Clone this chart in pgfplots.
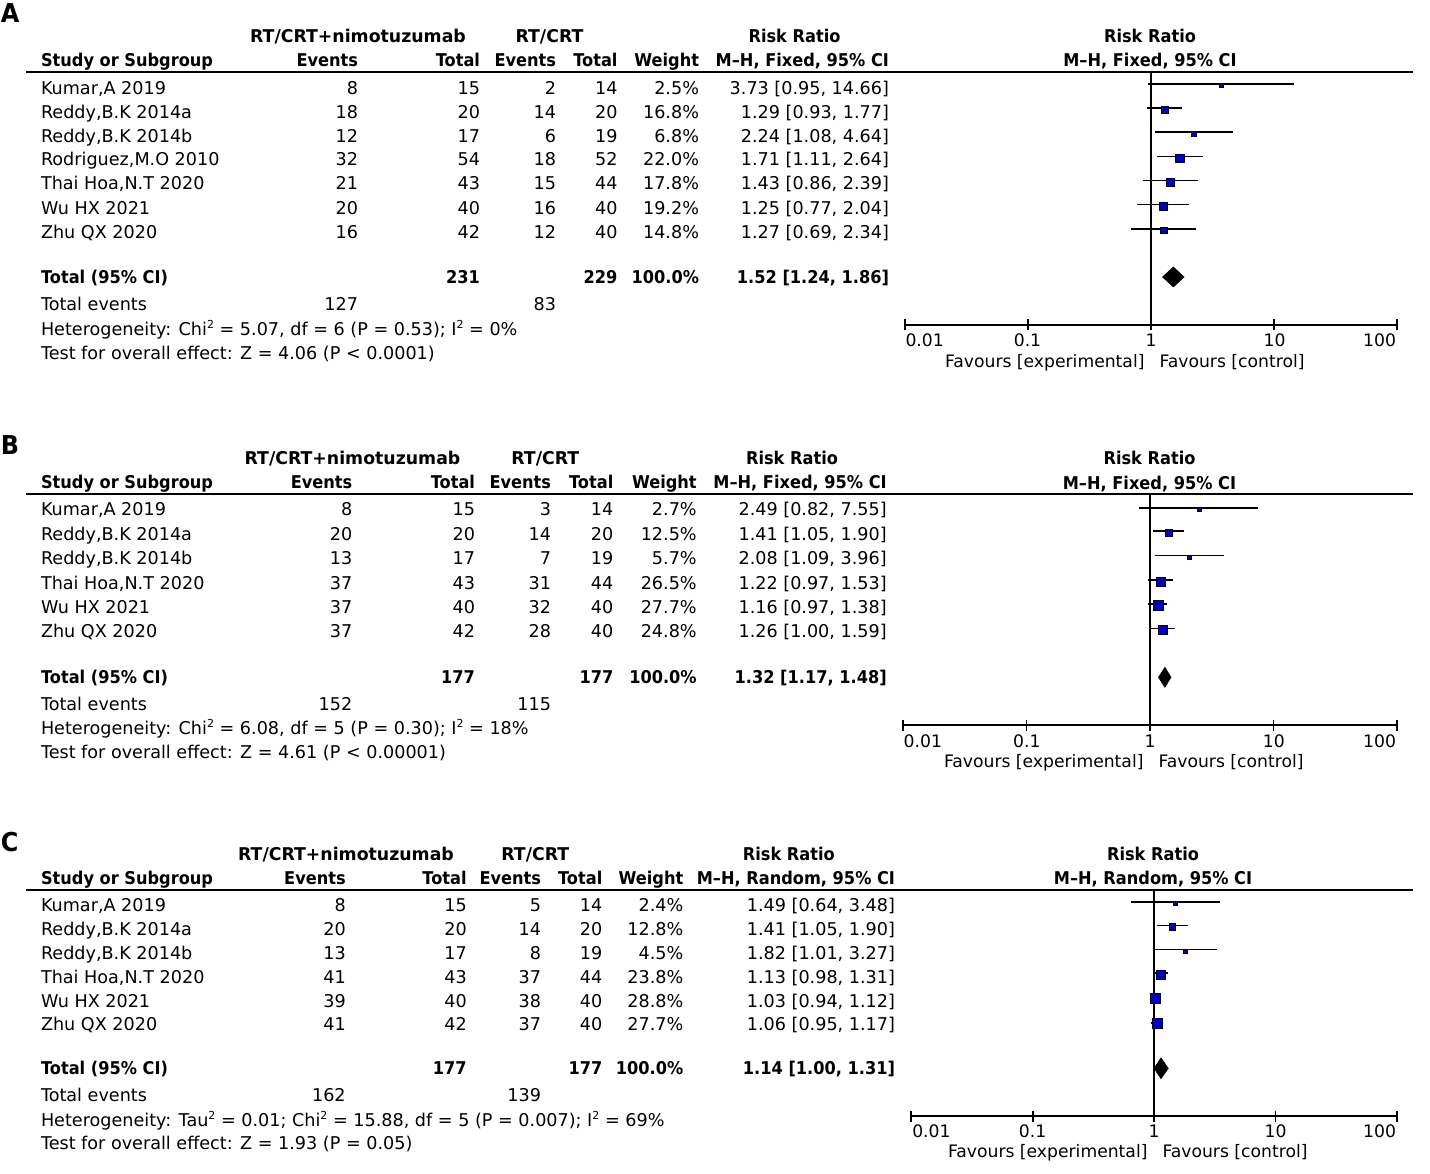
\documentclass[border=0pt]{standalone}
\usepackage{fontspec}
\setmainfont{DejaVu Sans}[BoldFeatures={FakeStretch=0.92}]
\usepackage{graphicx}
\usepackage{pgfplots}
\pgfplotsset{compat=1.18}
\definecolor{sqblue}{RGB}{0,0,200}

\newcommand\fs{\fontsize{17.6}{21}\selectfont}
\newcommand\fl{\fontsize{17.2}{20}\selectfont}
\newcommand\fp{\fontsize{26}{30}\selectfont\bfseries}
\newcommand\wb[1]{\scalebox{1.07}[1]{\bfseries #1}}
\newcommand\sq{\raisebox{0.42em}{\fontsize{11}{11}\selectfont 2}}

\newcommand\setcols[6]{\def\cE{#1}\def\cT{#2}\def\cEE{#3}\def\cTT{#4}\def\cW{#5}\def\cR{#6}}
\newcommand\trow[8]{%
  \node[anchor=base west] at (41,#1) {#2};
  \node[anchor=base east] at (\cE,#1) {#3};
  \node[anchor=base east] at (\cT,#1) {#4};
  \node[anchor=base east] at (\cEE,#1) {#5};
  \node[anchor=base east] at (\cTT,#1) {#6};
  \node[anchor=base east] at (\cW,#1) {#7};
  \node[anchor=base east] at (\cR,#1) {#8};}
% header: y1, y2, centre nimo, centre RT/CRT, centre RR, subtitle
\newcommand\theader[6]{%
  \node[anchor=base] at (#3,#1) {\wb{RT/CRT+nimotuzumab}};
  \node[anchor=base] at (#4,#1) {\wb{RT/CRT}};
  \node[anchor=base] at (#5,#1) {\bfseries Risk Ratio};
  \node[anchor=base west] at (41,#2) {\bfseries Study or Subgroup};
  \node[anchor=base east] at (\cE,#2) {\bfseries Events};
  \node[anchor=base east] at (\cT,#2) {\bfseries Total};
  \node[anchor=base east] at (\cEE,#2) {\bfseries Events};
  \node[anchor=base east] at (\cTT,#2) {\bfseries Total};
  \node[anchor=base east] at (\cW,#2) {\bfseries Weight};
  \node[anchor=base east] at (\cR,#2) {\bfseries #6};}
% total row: y, tot1, tot2, rr
\newcommand\ttotal[4]{%
  \node[anchor=base west] at (41,#1) {\bfseries Total (95\% CI)};
  \node[anchor=base east] at (\cT,#1) {\bfseries #2};
  \node[anchor=base east] at (\cTT,#1) {\bfseries #3};
  \node[anchor=base east] at (\cW,#1) {\bfseries 100.0\%};
  \node[anchor=base east] at (\cR,#1) {\bfseries #4};}
\newcommand\tevents[3]{%
  \node[anchor=base west] at (41,#1) {Total events};
  \node[anchor=base east] at (\cE,#1) {#2};
  \node[anchor=base east] at (\cEE,#1) {#3};}
% forest labels: tick baseline, favours baseline, x(0.01), x(0.1), x(1), x(10), x(100)
\newcommand\flabels[7]{%
  \node[anchor=base west,font=\fl] at (#3,#1) {0.01};
  \node[anchor=base,font=\fl] at (#4,#1) {0.1};
  \node[anchor=base,font=\fl] at (#5,#1) {1};
  \node[anchor=base,font=\fl] at (#6,#1) {10};
  \node[anchor=base east,font=\fl] at (#7,#1) {100};
  \node[anchor=base east,font=\fl] at (#5-6.5,#2) {Favours [experimental]};
  \node[anchor=base west,font=\fl] at (#5+8.5,#2) {Favours [control]};}

\pgfplotsset{
  myforest/.style={scale only axis, xmin=0.01, xmax=100,
    axis x line*=bottom, axis y line=none,
    xtick={0.01,0.1,1,10,100}, xticklabels={}, xminorticks=false,
    tick align=center, major tick length=11pt,
    axis line style={line width=1.8pt, black},
    every tick/.style={line width=1.8pt, black},
    clip=false, anchor=south west},
  vline/.style={black, line width=1.8pt, forget plot},
  ci/.style={black, line width=1.6pt, forget plot},
  sq/.style={only marks, mark=square*, mark options={fill=sqblue, draw=none}, forget plot},
  dia/.style={fill=black, draw=black, line width=0.5pt, forget plot}
}

\begin{document}
\begin{tikzpicture}
\begin{scope}[x=1pt,y=-1pt,every node/.style={inner sep=0pt,outer sep=0pt},font=\fs]
\path[use as bounding box] (0,0) rectangle (1430,1174);

% ---------------- Panel A ----------------
\node[anchor=base west,font=\fp] at (1,22.5) {A};
\setcols{358}{480}{556}{617.5}{699}{889}
\theader{42.4}{66.4}{358}{549.5}{794.5}{M--H, Fixed, 95\% CI}
\draw[line width=1.5pt] (26,72) -- (1413,72);
\trow{94.1}{Kumar,A 2019}{8}{15}{2}{14}{2.5\%}{3.73 [0.95, 14.66]}
\trow{118.1}{Reddy,B.K 2014a}{18}{20}{14}{20}{16.8\%}{1.29 [0.93, 1.77]}
\trow{142.1}{Reddy,B.K 2014b}{12}{17}{6}{19}{6.8\%}{2.24 [1.08, 4.64]}
\trow{165.7}{Rodriguez,M.O 2010}{32}{54}{18}{52}{22.0\%}{1.71 [1.11, 2.64]}
\trow{189.7}{Thai Hoa,N.T 2020}{21}{43}{15}{44}{17.8\%}{1.43 [0.86, 2.39]}
\trow{214.1}{Wu HX 2021}{20}{40}{16}{40}{19.2\%}{1.25 [0.77, 2.04]}
\trow{238.1}{Zhu QX 2020}{16}{42}{12}{40}{14.8\%}{1.27 [0.69, 2.34]}
\ttotal{283.1}{231}{229}{1.52 [1.24, 1.86]}
\tevents{310.7}{127}{83}
\node[anchor=base west] at (41,335.7) {Heterogeneity: Chi\sq{} = 5.07, df = 6 (P = 0.53); I\sq{} = 0\%};
\node[anchor=base west] at (41,359.1) {Test for overall effect: Z = 4.06 (P < 0.0001)};
\node[anchor=base] at (1150,42.4) {\bfseries Risk Ratio};
\node[anchor=base] at (1150,66.4) {\bfseries M--H, Fixed, 95\% CI};
\flabels{347}{367.7}{905.5}{1027.5}{1151}{1274.5}{1396}

% ---------------- Panel B ----------------
\node[anchor=base west,font=\fp] at (1,454) {B};
\setcols{352.3}{475}{551}{613.3}{696.7}{886.7}
\theader{464.1}{488.7}{352.5}{545.3}{792}{M--H, Fixed, 95\% CI}
\draw[line width=1.5pt] (26,494) -- (1413,494);
\trow{515.7}{Kumar,A 2019}{8}{15}{3}{14}{2.7\%}{2.49 [0.82, 7.55]}
\trow{540.4}{Reddy,B.K 2014a}{20}{20}{14}{20}{12.5\%}{1.41 [1.05, 1.90]}
\trow{564.7}{Reddy,B.K 2014b}{13}{17}{7}{19}{5.7\%}{2.08 [1.09, 3.96]}
\trow{589.1}{Thai Hoa,N.T 2020}{37}{43}{31}{44}{26.5\%}{1.22 [0.97, 1.53]}
\trow{613.1}{Wu HX 2021}{37}{40}{32}{40}{27.7\%}{1.16 [0.97, 1.38]}
\trow{637.4}{Zhu QX 2020}{37}{42}{28}{40}{24.8\%}{1.26 [1.00, 1.59]}
\ttotal{683.1}{177}{177}{1.32 [1.17, 1.48]}
\tevents{710.4}{152}{115}
\node[anchor=base west] at (41,734.7) {Heterogeneity: Chi\sq{} = 6.08, df = 5 (P = 0.30); I\sq{} = 18\%};
\node[anchor=base west] at (41,758.1) {Test for overall effect: Z = 4.61 (P < 0.00001)};
\node[anchor=base] at (1149.5,464.7) {\bfseries Risk Ratio};
\node[anchor=base] at (1149.5,489.1) {\bfseries M--H, Fixed, 95\% CI};
\flabels{747.7}{767.7}{903.7}{1026.8}{1150}{1273.8}{1396}

% ---------------- Panel C ----------------
\node[anchor=base west,font=\fp] at (1,851.5) {C};
\setcols{345.7}{466.7}{541}{602.3}{683.3}{895}
\theader{860.7}{884.7}{346}{535.3}{788.8}{M--H, Random, 95\% CI}
\draw[line width=1.5pt] (26,890) -- (1413,890);
\trow{911.4}{Kumar,A 2019}{8}{15}{5}{14}{2.4\%}{1.49 [0.64, 3.48]}
\trow{935.4}{Reddy,B.K 2014a}{20}{20}{14}{20}{12.8\%}{1.41 [1.05, 1.90]}
\trow{959.1}{Reddy,B.K 2014b}{13}{17}{8}{19}{4.5\%}{1.82 [1.01, 3.27]}
\trow{983.1}{Thai Hoa,N.T 2020}{41}{43}{37}{44}{23.8\%}{1.13 [0.98, 1.31]}
\trow{1007.1}{Wu HX 2021}{39}{40}{38}{40}{28.8\%}{1.03 [0.94, 1.12]}
\trow{1030.7}{Zhu QX 2020}{41}{42}{37}{40}{27.7\%}{1.06 [0.95, 1.17]}
\ttotal{1074.7}{177}{177}{1.14 [1.00, 1.31]}
\tevents{1101.4}{162}{139}
\node[anchor=base west] at (41,1126.4) {Heterogeneity: Tau\sq{} = 0.01; Chi\sq{} = 15.88, df = 5 (P = 0.007); I\sq{} = 69\%};
\node[anchor=base west] at (41,1149.1) {Test for overall effect: Z = 1.93 (P = 0.05)};
\node[anchor=base] at (1153,860.4) {\bfseries Risk Ratio};
\node[anchor=base] at (1153,884.1) {\bfseries M--H, Random, 95\% CI};
\flabels{1137.7}{1157.7}{912.3}{1032.6}{1154}{1275.6}{1396}
\end{scope}

% ---------------- Forest A ----------------
\begin{semilogxaxis}[myforest, at={(905pt,-325pt)}, width=492pt, height=253pt, ymin=-325, ymax=-72]
\addplot[vline] coordinates {(1,-72) (1,-325)};
\addplot[ci] coordinates {(0.95,-84) (14.66,-84)};
\addplot[sq, mark size=1.8] coordinates {(3.73,-85.5)};
\addplot[ci] coordinates {(0.93,-108.3) (1.77,-108.3)};
\addplot[sq, mark size=3.6] coordinates {(1.29,-109.8)};
\addplot[ci] coordinates {(1.08,-132.3) (4.64,-132.3)};
\addplot[sq, mark size=2.4] coordinates {(2.24,-133.8)};
\addplot[ci] coordinates {(1.11,-156.7) (2.64,-156.7)};
\addplot[sq, mark size=4.4] coordinates {(1.71,-158.2)};
\addplot[ci] coordinates {(0.86,-180.5) (2.39,-180.5)};
\addplot[sq, mark size=3.8] coordinates {(1.43,-182)};
\addplot[ci] coordinates {(0.77,-204.5) (2.04,-204.5)};
\addplot[sq, mark size=3.8] coordinates {(1.25,-206)};
\addplot[ci] coordinates {(0.69,-229) (2.34,-229)};
\addplot[sq, mark size=3.2] coordinates {(1.27,-230.3)};
\addplot[dia] coordinates {(1.24,-277) (1.52,-267) (1.86,-277) (1.52,-287)} -- cycle;
\end{semilogxaxis}

% ---------------- Forest B ----------------
\begin{semilogxaxis}[myforest, at={(903pt,-725pt)}, width=494pt, height=231pt, ymin=-725, ymax=-494]
\addplot[vline] coordinates {(1,-494) (1,-725)};
\addplot[ci] coordinates {(0.82,-507.7) (7.55,-507.7)};
\addplot[sq, mark size=1.9] coordinates {(2.49,-509.2)};
\addplot[ci] coordinates {(1.05,-531) (1.90,-531)};
\addplot[sq, mark size=3.3] coordinates {(1.41,-532.5)};
\addplot[ci] coordinates {(1.09,-555.5) (3.96,-555.5)};
\addplot[sq, mark size=2.3] coordinates {(2.08,-557)};
\addplot[ci] coordinates {(0.97,-580) (1.53,-580)};
\addplot[sq, mark size=4.8] coordinates {(1.22,-581.5)};
\addplot[ci] coordinates {(0.97,-604) (1.38,-604)};
\addplot[sq, mark size=4.9] coordinates {(1.16,-605.5)};
\addplot[ci] coordinates {(1.00,-628.5) (1.59,-628.5)};
\addplot[sq, mark size=4.6] coordinates {(1.26,-630)};
\addplot[dia] coordinates {(1.17,-677.3) (1.32,-667.3) (1.48,-677.3) (1.32,-687.3)} -- cycle;
\end{semilogxaxis}

% ---------------- Forest C ----------------
\begin{semilogxaxis}[myforest, at={(911.3pt,-1116pt)}, width=485.6pt, height=226pt, ymin=-1116, ymax=-890]
\addplot[vline] coordinates {(1,-890) (1,-1116)};
\addplot[ci] coordinates {(0.64,-901.7) (3.48,-901.7)};
\addplot[sq, mark size=1.8] coordinates {(1.49,-903.2)};
\addplot[ci] coordinates {(1.05,-925.3) (1.90,-925.3)};
\addplot[sq, mark size=3.3] coordinates {(1.41,-926.8)};
\addplot[ci] coordinates {(1.01,-949.3) (3.27,-949.3)};
\addplot[sq, mark size=2.0] coordinates {(1.82,-950.8)};
\addplot[ci] coordinates {(0.98,-973) (1.31,-973)};
\addplot[sq, mark size=4.6] coordinates {(1.13,-974.5)};
\addplot[ci] coordinates {(0.94,-998) (1.12,-998)};
\addplot[sq, mark size=5.0] coordinates {(1.03,-998.5)};
\addplot[ci] coordinates {(0.95,-1022.7) (1.17,-1022.7)};
\addplot[sq, mark size=4.9] coordinates {(1.06,-1023.5)};
\addplot[dia] coordinates {(1.00,-1068.3) (1.14,-1057.8) (1.31,-1068.3) (1.14,-1078.8)} -- cycle;
\end{semilogxaxis}
\end{tikzpicture}
\end{document}
